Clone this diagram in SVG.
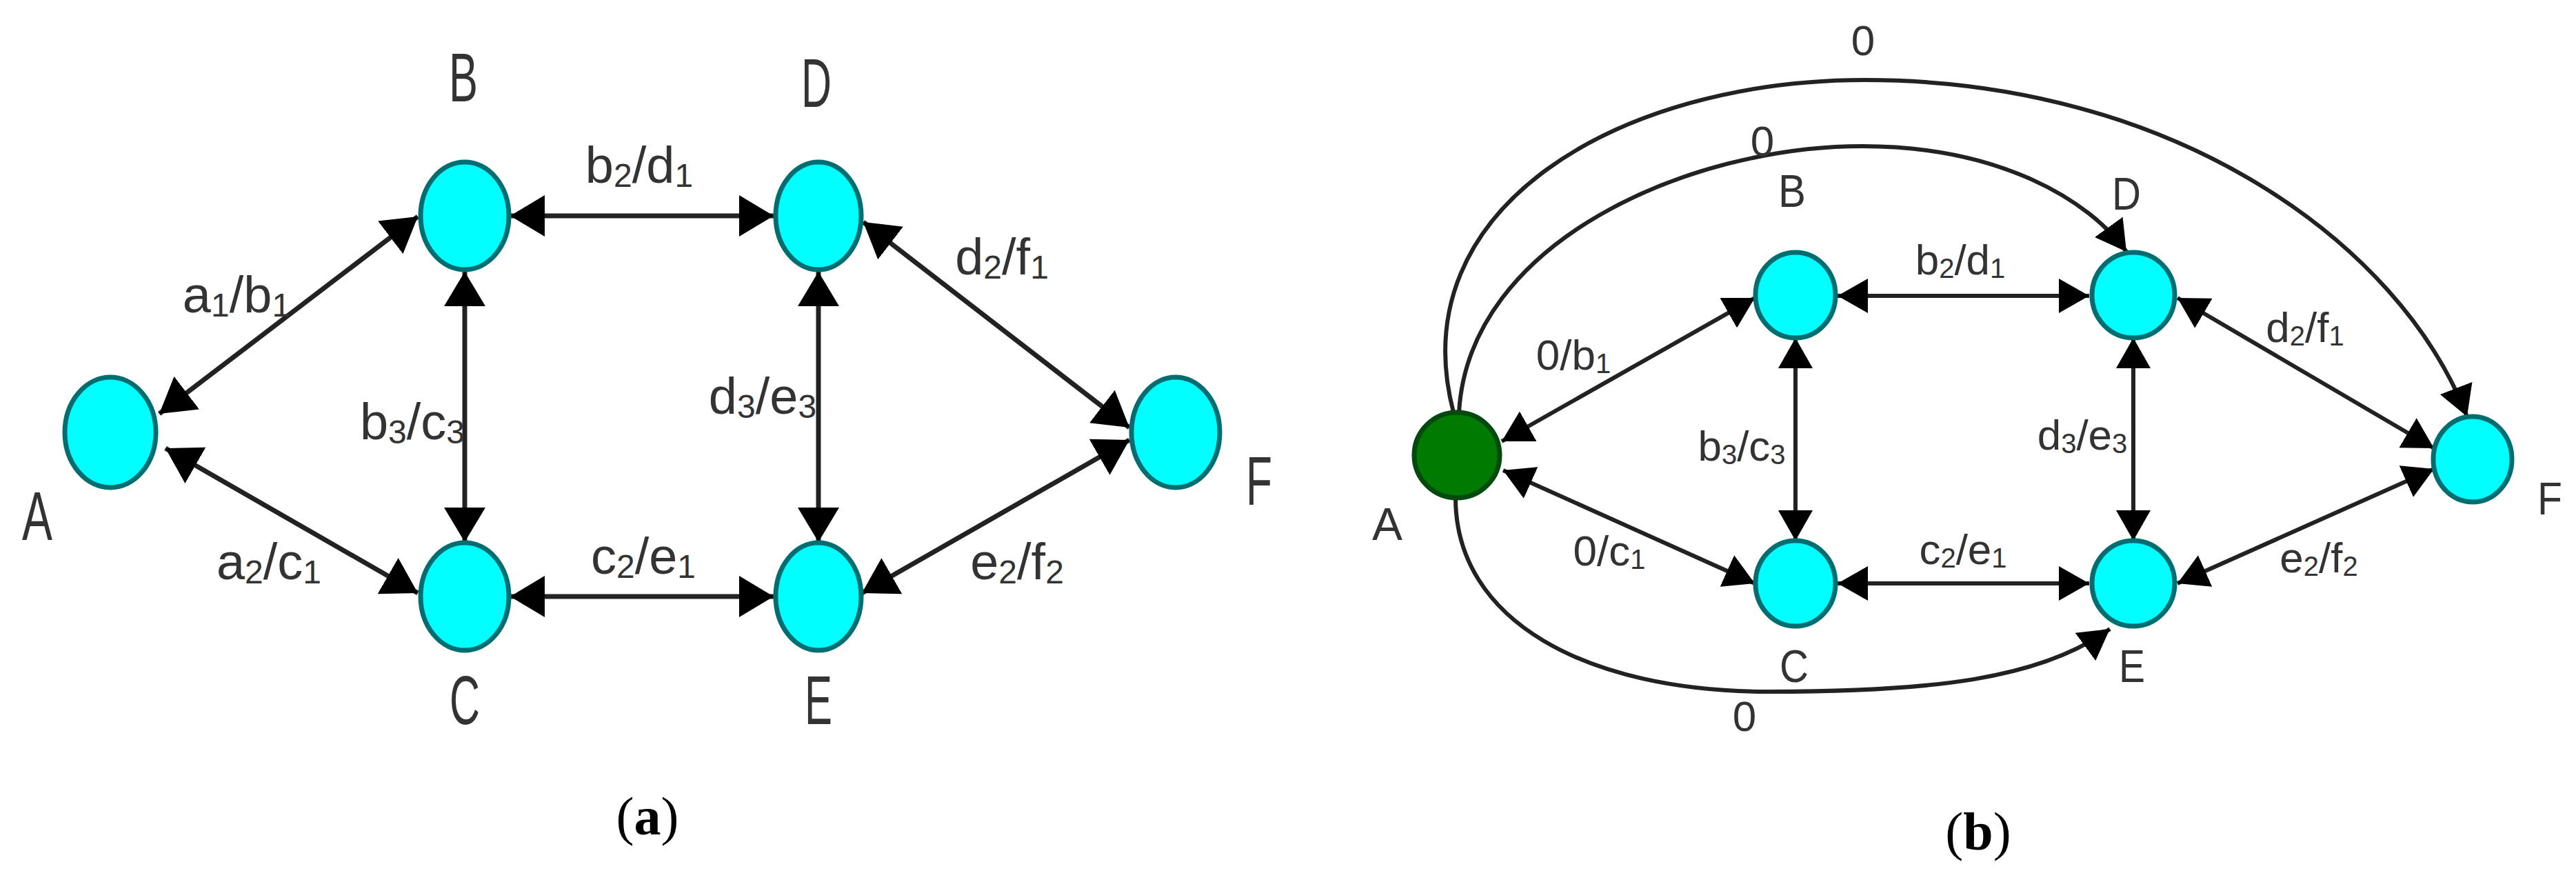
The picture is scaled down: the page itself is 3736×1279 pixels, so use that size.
<svg xmlns="http://www.w3.org/2000/svg" width="3736" height="1279" viewBox="0 0 3736 1279">
<style>
.n{fill:#00FFFF;stroke:#006E70;stroke-width:7}
.g{fill:#007A00;stroke:#004A10;stroke-width:7}
.e{stroke:#222;stroke-width:7;fill:none}
.c{stroke:#222;stroke-width:6;fill:none}
.t{font-family:"Liberation Sans",Arial,sans-serif;fill:#333;text-anchor:middle}
.la{font-size:100px}
.ea{font-size:74px}
.lb{font-size:66px}
.eb{font-size:62px}
.cap{font-family:"Liberation Serif","Times New Roman",serif;font-size:78px;fill:#000;text-anchor:middle}
</style>
<defs>
<marker id="ar" viewBox="0 0 50 60" markerWidth="50" markerHeight="60" refX="50" refY="30" orient="auto-start-reverse" markerUnits="userSpaceOnUse">
<path d="M0,0 L50,30 L0,60 Z" fill="#000"/>
</marker>
<marker id="as" viewBox="0 0 44 50" markerWidth="44" markerHeight="50" refX="44" refY="25" orient="auto-start-reverse" markerUnits="userSpaceOnUse">
<path d="M0,0 L44,25 L0,50 Z" fill="#000"/>
</marker>
</defs>
<g id="connectors">
<line class="e" x1="231" y1="600" x2="606" y2="314" marker-start="url(#ar)" marker-end="url(#ar)"/>
<line class="e" x1="240" y1="650" x2="606" y2="860" marker-start="url(#ar)" marker-end="url(#ar)"/>
<line class="e" x1="740" y1="313" x2="1122" y2="313" marker-start="url(#ar)" marker-end="url(#ar)"/>
<line class="e" x1="674" y1="394" x2="674" y2="786" marker-start="url(#ar)" marker-end="url(#ar)"/>
<line class="e" x1="1187" y1="394" x2="1187" y2="786" marker-start="url(#ar)" marker-end="url(#ar)"/>
<line class="e" x1="740" y1="865" x2="1122" y2="865" marker-start="url(#ar)" marker-end="url(#ar)"/>
<line class="e" x1="1252" y1="322" x2="1638" y2="620" marker-start="url(#ar)" marker-end="url(#ar)"/>
<line class="e" x1="1250" y1="860" x2="1638" y2="638" marker-start="url(#ar)" marker-end="url(#ar)"/>
<line class="c" x1="2178" y1="640" x2="2545" y2="432" marker-start="url(#as)" marker-end="url(#as)"/>
<line class="c" x1="2180" y1="682" x2="2545" y2="846" marker-start="url(#as)" marker-end="url(#as)"/>
<line class="c" x1="2665" y1="429" x2="3030" y2="429" marker-start="url(#as)" marker-end="url(#as)"/>
<line class="c" x1="2604" y1="490" x2="2604" y2="784" marker-start="url(#as)" marker-end="url(#as)"/>
<line class="c" x1="3094" y1="490" x2="3094" y2="784" marker-start="url(#as)" marker-end="url(#as)"/>
<line class="c" x1="2665" y1="846" x2="3030" y2="846" marker-start="url(#as)" marker-end="url(#as)"/>
<line class="c" x1="3158" y1="432" x2="3530" y2="650" marker-start="url(#as)" marker-end="url(#as)"/>
<line class="c" x1="3158" y1="846" x2="3530" y2="680" marker-start="url(#as)" marker-end="url(#as)"/>
<path class="c" d="M2116,598 C2130,350 2450,212 2701,212 C2900,212 3030,290 3084,365" marker-end="url(#as)"/>
<path class="c" d="M2108,598 C2030,300 2350,116 2705,116 C3150,116 3480,350 3578,604" marker-end="url(#as)"/>
<path class="c" d="M2111,722 C2111,900 2300,1003 2566,1003 C2800,1003 2960,985 3060,912" marker-end="url(#as)"/>
</g>
<g class="t ea">
<text x="343" y="453">a<tspan font-size="48" dy="6">1</tspan><tspan dy="-6">/b</tspan><tspan font-size="48" dy="6">1</tspan></text>
<text x="390" y="840">a<tspan font-size="48" dy="6">2</tspan><tspan dy="-6">/c</tspan><tspan font-size="48" dy="6">1</tspan></text>
<text x="927" y="265">b<tspan font-size="48" dy="6">2</tspan><tspan dy="-6">/d</tspan><tspan font-size="48" dy="6">1</tspan></text>
<text x="598" y="637">b<tspan font-size="48" dy="6">3</tspan><tspan dy="-6">/c</tspan><tspan font-size="48" dy="6">3</tspan></text>
<text x="933" y="832">c<tspan font-size="48" dy="6">2</tspan><tspan dy="-6">/e</tspan><tspan font-size="48" dy="6">1</tspan></text>
<text x="1106" y="600">d<tspan font-size="48" dy="6">3</tspan><tspan dy="-6">/e</tspan><tspan font-size="48" dy="6">3</tspan></text>
<text x="1453" y="398">d<tspan font-size="48" dy="6">2</tspan><tspan dy="-6">/f</tspan><tspan font-size="48" dy="6">1</tspan></text>
<text x="1475" y="840">e<tspan font-size="48" dy="6">2</tspan><tspan dy="-6">/f</tspan><tspan font-size="48" dy="6">2</tspan></text>
</g>
<g class="t eb">
<text x="2282" y="536">0/b<tspan font-size="40" dy="5">1</tspan></text>
<text x="2334" y="820">0/c<tspan font-size="40" dy="5">1</tspan></text>
<text x="2843" y="398">b<tspan font-size="40" dy="5">2</tspan><tspan dy="-5">/d</tspan><tspan font-size="40" dy="5">1</tspan></text>
<text x="2526" y="668">b<tspan font-size="40" dy="5">3</tspan><tspan dy="-5">/c</tspan><tspan font-size="40" dy="5">3</tspan></text>
<text x="2847" y="818">c<tspan font-size="40" dy="5">2</tspan><tspan dy="-5">/e</tspan><tspan font-size="40" dy="5">1</tspan></text>
<text x="3020" y="652">d<tspan font-size="40" dy="5">3</tspan><tspan dy="-5">/e</tspan><tspan font-size="40" dy="5">3</tspan></text>
<text x="3343" y="496">d<tspan font-size="40" dy="5">2</tspan><tspan dy="-5">/f</tspan><tspan font-size="40" dy="5">1</tspan></text>
<text x="3363" y="830">e<tspan font-size="40" dy="5">2</tspan><tspan dy="-5">/f</tspan><tspan font-size="40" dy="5">2</tspan></text>
<text x="2702" y="80">0</text>
<text x="2556" y="226">0</text>
<text x="2530" y="1060">0</text>
</g>
<g id="a-A"><ellipse class="n" cx="160" cy="627" rx="66" ry="80"/><text class="t la" x="54" y="783" textLength="44" lengthAdjust="spacingAndGlyphs">A</text></g>
<g id="a-B"><ellipse class="n" cx="674" cy="313" rx="64" ry="78"/><text class="t la" x="672" y="147" textLength="42" lengthAdjust="spacingAndGlyphs">B</text></g>
<g id="a-C"><ellipse class="n" cx="674" cy="865" rx="64" ry="78"/><text class="t la" x="674" y="1050" textLength="44" lengthAdjust="spacingAndGlyphs">C</text></g>
<g id="a-D"><ellipse class="n" cx="1187" cy="313" rx="62" ry="78"/><text class="t la" x="1184" y="155" textLength="44" lengthAdjust="spacingAndGlyphs">D</text></g>
<g id="a-E"><ellipse class="n" cx="1187" cy="865" rx="62" ry="78"/><text class="t la" x="1187" y="1050" textLength="40" lengthAdjust="spacingAndGlyphs">E</text></g>
<g id="a-F"><ellipse class="n" cx="1705" cy="627" rx="64" ry="80"/><text class="t la" x="1826" y="732" textLength="38" lengthAdjust="spacingAndGlyphs">F</text></g>
<g id="b-A"><ellipse class="g" cx="2113" cy="660" rx="62" ry="62"/><text class="t lb" x="2012" y="783" textLength="44" lengthAdjust="spacingAndGlyphs">A</text></g>
<g id="b-B"><ellipse class="n" cx="2604" cy="428" rx="58" ry="62"/><text class="t lb" x="2599" y="300" textLength="40" lengthAdjust="spacingAndGlyphs">B</text></g>
<g id="b-C"><ellipse class="n" cx="2604" cy="846" rx="58" ry="62"/><text class="t lb" x="2602" y="989" textLength="42" lengthAdjust="spacingAndGlyphs">C</text></g>
<g id="b-D"><ellipse class="n" cx="3094" cy="428" rx="60" ry="62"/><text class="t lb" x="3084" y="304" textLength="42" lengthAdjust="spacingAndGlyphs">D</text></g>
<g id="b-E"><ellipse class="n" cx="3094" cy="846" rx="60" ry="62"/><text class="t lb" x="3092" y="989" textLength="38" lengthAdjust="spacingAndGlyphs">E</text></g>
<g id="b-F"><ellipse class="n" cx="3586" cy="666" rx="57" ry="62"/><text class="t lb" x="3698" y="746" textLength="36" lengthAdjust="spacingAndGlyphs">F</text></g>
<text class="cap" x="939" y="1210">(<tspan font-weight="bold">a</tspan>)</text>
<text class="cap" x="2869" y="1232">(<tspan font-weight="bold">b</tspan>)</text>
</svg>
